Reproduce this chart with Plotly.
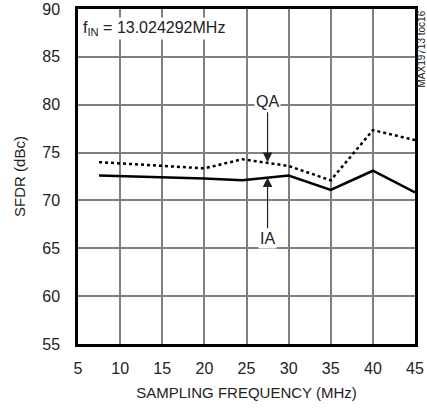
import plotly.graph_objects as go

freq = [7.5, 20, 24.5, 30, 35, 40, 45]
ia = [72.6, 72.3, 72.1, 72.6, 71.1, 73.1, 70.85]
qa_freq = [7.5, 20, 24.5, 30, 35, 40, 45]
qa = [74.0, 73.35, 74.3, 73.6, 72.1, 77.35, 76.3]

x_ticks = [5, 10, 15, 20, 25, 30, 35, 40, 45]
y_ticks = [55, 60, 65, 70, 75, 80, 85, 90]

FONT = "Liberation Sans, Arial, sans-serif"

fig = go.Figure()
fig.add_trace(go.Scatter(x=freq, y=ia, mode="lines",
                         line=dict(color="black", width=2.5), showlegend=False))
fig.add_trace(go.Scatter(x=qa_freq, y=qa, mode="lines",
                         line=dict(color="black", width=2.5, dash="dot"), showlegend=False))

fig.update_layout(
    width=427, height=409,
    margin=dict(l=78, r=12, t=9, b=65, autoexpand=False),
    plot_bgcolor="white", paper_bgcolor="white",
    font=dict(family=FONT, size=15, color="#222"),
    xaxis=dict(range=[5, 45], tickvals=x_ticks, showgrid=True, gridcolor="#808080",
               gridwidth=1.5, showline=True, linecolor="black", linewidth=2.5, mirror=True,
               ticks="", zeroline=False, tickfont=dict(size=16), ticklabelstandoff=8,
               title=dict(text="SAMPLING FREQUENCY (MHz)", font=dict(size=15), standoff=12)),
    yaxis=dict(range=[55, 90], tickvals=y_ticks, showgrid=True, gridcolor="#808080",
               gridwidth=1.5, showline=True, linecolor="black", linewidth=2.5, mirror=True,
               ticks="outside", ticklen=12, tickcolor="rgba(0,0,0,0)",
               zeroline=False, tickfont=dict(size=16),
               title=dict(text="SFDR (dBc)", font=dict(size=15), standoff=14)),
)

fig.add_annotation(x=5.4, y=88.0, xref="x", yref="y", text="f<sub>IN</sub> = 13.024292MHz",
                   showarrow=False, xanchor="left", yanchor="middle",
                   bgcolor="white", font=dict(size=16))
fig.add_annotation(x=27.5, y=74.0, ax=27.5, ay=79.2, xref="x", yref="y", axref="x", ayref="y",
                   text="QA", showarrow=True, arrowhead=2, arrowsize=1.6, arrowwidth=1.2,
                   arrowcolor="#222", bgcolor="white", font=dict(size=16), yanchor="bottom")
fig.add_annotation(x=27.5, y=72.4, ax=27.5, ay=67.1, xref="x", yref="y", axref="x", ayref="y",
                   text="IA", showarrow=True, arrowhead=2, arrowsize=1.6, arrowwidth=1.2,
                   arrowcolor="#222", bgcolor="white", font=dict(size=16), yanchor="top")
fig.add_annotation(x=1.0, y=1.0, xref="paper", yref="paper", xshift=6, yshift=0,
                   text="MAX19713 toc16",
                   showarrow=False, textangle=-90, xanchor="center", yanchor="top",
                   font=dict(size=10))

fig.write_html("out.html", config={"displayModeBar": False},
               post_script="document.body.style.margin='0';document.body.style.overflow='hidden';")
